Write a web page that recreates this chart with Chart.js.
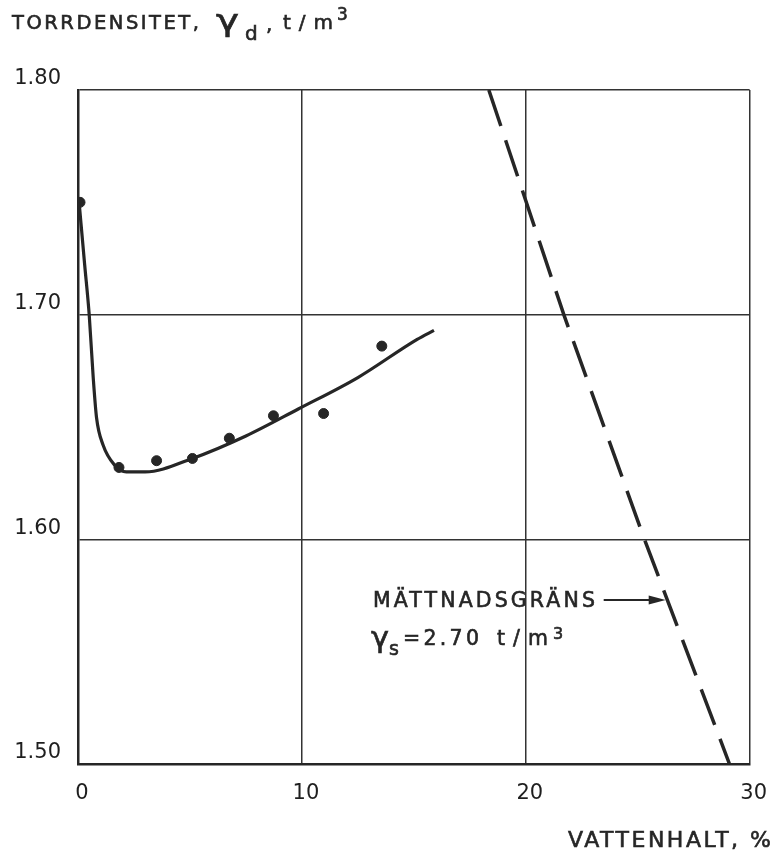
<!DOCTYPE html>
<html><head><meta charset="utf-8">
<script src="https://cdn.jsdelivr.net/npm/chart.js@4"></script>
<style>html,body{margin:0;padding:0;background:#fff;} #wrap{width:780px;height:865px;}</style>
</head><body><div id="wrap"><canvas id="c" width="780" height="865"></canvas></div>
<script>
// ---- data ----
const xTicks = [0, 10, 20, 30];
const yTicks = [1.50, 1.60, 1.70, 1.80];
const measuredW  = [0.09, 1.83, 3.51, 5.11, 6.76, 8.73, 10.97, 13.57];
const measuredGd = [1.750, 1.632, 1.635, 1.636, 1.645, 1.655, 1.656, 1.686];
const curveW  = [0.05, 0.30, 0.50, 0.68, 0.83, 1.12, 1.64, 2.16, 3.00, 5.11, 7.50, 9.84, 12.50, 15.15, 15.90];
const curveGd = [1.750, 1.722, 1.700, 1.672, 1.654, 1.642, 1.633, 1.630, 1.630, 1.636, 1.646, 1.658, 1.672, 1.689, 1.693];
const satW  = [18.35, 21.7, 25.3, 29.1];
const satGd = [1.80, 1.70, 1.60, 1.50];
const satArrow = [26.25, 1.573];

const INK = '#262626';
const FONT = "'DejaVu Sans','Liberation Sans',sans-serif";

function pts(xs, ys) { return xs.map((x, i) => ({x: x, y: ys[i]})); }

// draw text; width -> fit by letter spacing; glyphW -> fit by horizontal scaling
function txt(ctx, s, x, y, size, width, glyphW) {
  ctx.font = size + 'px ' + FONT;
  ctx.letterSpacing = '0px';
  ctx.lineWidth = 0.6;
  const w = ctx.measureText(s).width;
  if (glyphW) {
    ctx.save();
    ctx.translate(x, y);
    ctx.scale(glyphW / w, 1);
    ctx.fillText(s, 0, 0);
    ctx.strokeText(s, 0, 0);
    ctx.restore();
    return;
  }
  if (width) {
    const n = [...s].length;
    const sp = n > 1 ? (width - w) / (n - 1) : 0;
    ctx.letterSpacing = sp.toFixed(2) + 'px';
  }
  ctx.fillText(s, x, y);
  ctx.strokeText(s, x, y);
  ctx.letterSpacing = '0px';
}

const textPlugin = {
  id: 'texts',
  afterDraw(chart) {
    const ctx = chart.ctx;
    ctx.save();
    ctx.fillStyle = INK;
    ctx.strokeStyle = INK;
    ctx.textAlign = 'left';
    ctx.textBaseline = 'alphabetic';
    // axis title (y)
    txt(ctx, 'TORRDENSITET,', 12, 29, 19.5, 187);
    txt(ctx, 'γ', 216, 31, 30, null, 23);
    txt(ctx, 'd', 245, 40, 20);
    txt(ctx, ',', 266, 31, 20);
    txt(ctx, 't/m', 283, 29, 20, 50);
    txt(ctx, '3', 337, 20, 17);
    // axis title (x)
    txt(ctx, 'VATTENHALT, %', 568, 847, 22, 203);
    // annotation
    const xs = chart.scales.x, ys = chart.scales.y;
    const tx = xs.getPixelForValue(satArrow[0]);
    const ty = ys.getPixelForValue(satArrow[1]);
    txt(ctx, 'MÄTTNADSGRÄNS', 373, ty + 7, 20.5, 222);
    txt(ctx, 'γ', 371, ty + 47, 28, null, 18);
    txt(ctx, 's', 389, ty + 55, 19);
    txt(ctx, '=2.70', 403, ty + 45, 20.5, 76);
    txt(ctx, 't/m', 497, ty + 45, 20.5, 51);
    txt(ctx, '3', 553, ty + 39, 16);
    // arrow
    ctx.lineWidth = 2;
    ctx.beginPath();
    ctx.moveTo(tx - 62, ty);
    ctx.lineTo(tx - 14, ty);
    ctx.stroke();
    ctx.beginPath();
    ctx.moveTo(tx, ty);
    ctx.lineTo(tx - 17, ty - 4.5);
    ctx.lineTo(tx - 17, ty + 4.5);
    ctx.closePath();
    ctx.fill();
    ctx.restore();
  }
};

new Chart(document.getElementById('c'), {
  type: 'scatter',
  data: {
    datasets: [
      {
        label: 'curve', type: 'line', data: pts(curveW, curveGd),
        borderColor: INK, borderWidth: 3.2, pointRadius: 0,
        cubicInterpolationMode: 'monotone', fill: false
      },
      {
        label: 'points', data: pts(measuredW, measuredGd),
        backgroundColor: INK, borderColor: INK, pointRadius: 5, pointHoverRadius: 5
      },
      {
        label: 'saturation', type: 'line', data: pts(satW, satGd),
        borderColor: INK, borderWidth: 3.5, borderDash: [38, 15], pointRadius: 0,
        tension: 0, fill: false
      }
    ]
  },
  options: {
    responsive: false,
    animation: false,
    events: [],
    layout: { padding: { left: 0, top: 90, right: 25, bottom: 0 } },
    plugins: { legend: { display: false }, tooltip: { enabled: false } },
    scales: {
      x: {
        type: 'linear', min: 0, max: 30,
        afterBuildTicks: s => { s.ticks = xTicks.map(v => ({value: v})); },
        afterFit: s => { s.height = 101; },
        grid: { color: '#333', lineWidth: 1.5, drawTicks: false },
        border: { color: '#262626', width: 2.5 },
        ticks: {
          color: '#1e1e1e', padding: 17, labelOffset: 4,
          font: { family: FONT, size: 21 },
          callback: v => String(v)
        }
      },
      y: {
        type: 'linear', min: 1.5, max: 1.8,
        afterBuildTicks: s => { s.ticks = yTicks.map(v => ({value: v})); },
        afterFit: s => { s.width = 78; },
        grid: { color: '#333', lineWidth: 1.5, drawTicks: false },
        border: { color: '#262626', width: 2.5 },
        ticks: {
          color: '#1e1e1e', padding: 17, labelOffset: -11,
          font: { family: FONT, size: 21 },
          callback: v => Number(v).toFixed(2)
        }
      }
    }
  },
  plugins: [textPlugin]
});
</script>
</body></html>
